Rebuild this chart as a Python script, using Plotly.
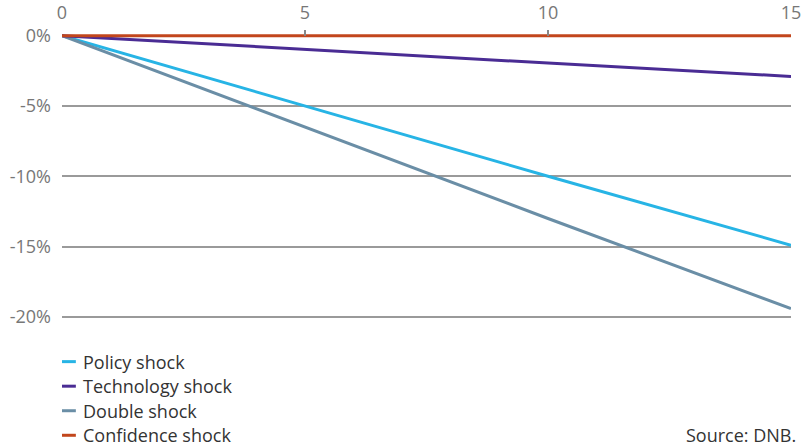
import plotly.graph_objects as go

# Years after the shock
years = [0, 5, 10, 15]

# Cumulative effect (%) per scenario
policy_shock = [0, -5.0, -10.0, -14.9]
technology_shock = [0, -1.0, -1.95, -2.9]
double_shock = [0, -6.5, -13.0, -19.4]
confidence_shock = [0, 0, 0, 0]

series = [
    ("Policy shock", policy_shock, "#27b4e5"),
    ("Technology shock", technology_shock, "#4a2c94"),
    ("Double shock", double_shock, "#6a8ea6"),
    ("Confidence shock", confidence_shock, "#c2461c"),
]

x_ticks = [0, 5, 10, 15]
y_ticks = [0, -5, -10, -15, -20]
y_tick_text = ["0%", "-5%", "-10%", "-15%", "-20%"]

FONT = "Open Sans"
SIZE = 18

fig = go.Figure()
# draw order: confidence line on top of the zero gridline
for name, vals, color in [series[0], series[2], series[1], series[3]]:
    fig.add_trace(go.Scatter(
        x=years, y=vals, mode="lines", name=name,
        line=dict(color=color, width=3),
        showlegend=False, hoverinfo="skip",
    ))

# legend: short coloured key line plus label, one row per scenario
legend_top = -0.128
row_step = 0.0835
key_len = 0.019
for i, (name, vals, color) in enumerate(series):
    y = legend_top - i * row_step
    fig.add_shape(
        type="line", xref="paper", yref="paper",
        x0=0, x1=key_len, y0=y, y1=y,
        line=dict(color=color, width=3),
    )
    fig.add_annotation(
        xref="paper", yref="paper", x=0.026, y=y,
        xanchor="left", yanchor="middle", showarrow=False,
        text=name,
        font=dict(family=FONT, size=SIZE, color="#333333"),
    )

fig.add_annotation(
    xref="paper", yref="paper", x=1.01, y=legend_top - 3 * row_step,
    xanchor="right", yanchor="middle", showarrow=False,
    text="Source: DNB.",
    font=dict(family=FONT, size=SIZE, color="#333333"),
)

fig.update_layout(
    width=806, height=448,
    margin=dict(l=62, r=15, t=30, b=124),
    paper_bgcolor="white", plot_bgcolor="white",
    font=dict(family=FONT, size=SIZE, color="#777777"),
    xaxis=dict(
        side="top", range=[0, 15], tickvals=x_ticks,
        ticks="inside", ticklen=6, tickwidth=1.5, tickcolor="#888888",
        showgrid=False, zeroline=False, showline=False, automargin=False,
        ticklabelstandoff=6,
        tickfont=dict(family=FONT, size=SIZE, color="#777777"),
    ),
    yaxis=dict(
        range=[-20.5, 0.4], tickvals=y_ticks, ticktext=y_tick_text,
        showgrid=True, gridcolor="#9a9a9a", gridwidth=1.5,
        zeroline=False, showline=False, ticks="", automargin=False,
        ticklabelstandoff=10,
        tickfont=dict(family=FONT, size=SIZE, color="#777777"),
    ),
)

fig.write_html("out.html")
